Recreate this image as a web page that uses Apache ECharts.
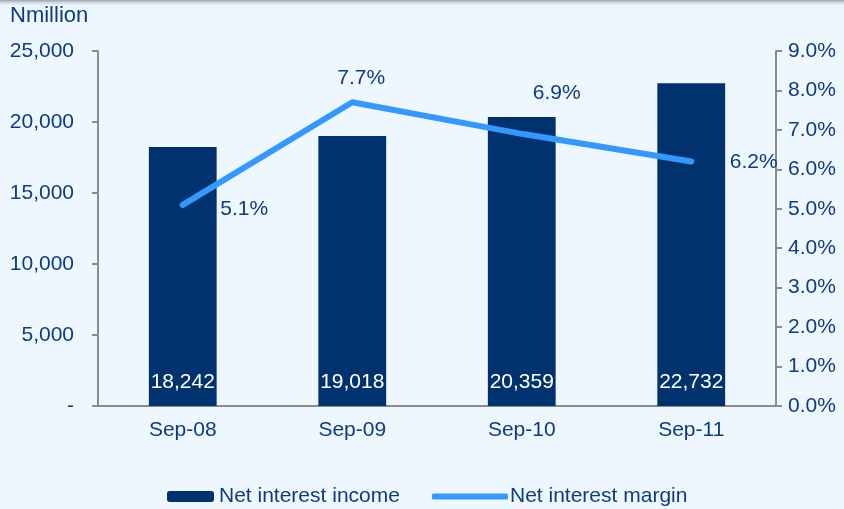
<!DOCTYPE html>
<html>
<head>
<meta charset="utf-8">
<script src="https://cdn.jsdelivr.net/npm/echarts@6/dist/echarts.min.js"></script>
<style>
  html, body { margin: 0; padding: 0; background: #eef6fe; }
  #main { width: 844px; height: 509px; }
</style>
</head>
<body>
<div id="main"></div>
<script>
var categories = ['Sep-08', 'Sep-09', 'Sep-10', 'Sep-11'];
var incomeValues = [18242, 19018, 20359, 22732];
var marginValues = [5.1, 7.7, 6.9, 6.2];
var incomeTicks = [0, 5000, 10000, 15000, 20000, 25000];
var marginTicks = [0, 1, 2, 3, 4, 5, 6, 7, 8, 9];

// where each margin label sits relative to its point
var marginLabelPos = [
  { position: 'right', offset: [32, 4] },
  { position: 'top', offset: [9, -8] },
  { position: 'top', offset: [35, -25] },
  { position: 'right', offset: [33, 1] }
];

var textColor = '#0e3c80';
var font = 'Liberation Sans, Arial, sans-serif';
var fs = 21;

var chart = echarts.init(document.getElementById('main'));

var option = {
  backgroundColor: '#eef6fe',
  textStyle: { fontFamily: font },
  graphic: [{
    type: 'rect',
    left: 0, top: 0,
    shape: { width: 844, height: 7 },
    style: {
      fill: new echarts.graphic.LinearGradient(0, 0, 0, 1, [
        { offset: 0, color: '#9aa3ad' },
        { offset: 1, color: 'rgba(238,246,254,0)' }
      ])
    }
  }, {
    type: 'text',
    left: 10, top: 5,
    style: { text: 'Nmillion', fill: textColor, font: '22px ' + font }
  }],
  grid: { left: 98, right: 68, top: 51, bottom: 103 },
  legend: [{
    data: ['Net interest income'],
    left: 162, top: 481,
    itemWidth: 47, itemHeight: 11,
    itemGap: 5,
    textStyle: { color: textColor, fontSize: fs, fontFamily: font }
  }, {
    data: [{ name: 'Net interest margin', icon: 'roundRect' }],
    left: 427, top: 481,
    itemWidth: 76, itemHeight: 6,
    textStyle: { color: textColor, fontSize: fs, fontFamily: font, padding: [0, 0, 0, -3] }
  }],
  xAxis: {
    type: 'category',
    data: categories,
    axisLine: { lineStyle: { color: '#8c8c8c', width: 2 } },
    axisTick: { length: 6, lineStyle: { color: '#8c8c8c', width: 2 } },
    axisLabel: { color: textColor, fontSize: fs, margin: 14 }
  },
  yAxis: [{
    type: 'value',
    min: incomeTicks[0],
    max: incomeTicks[incomeTicks.length - 1],
    interval: incomeTicks[1] - incomeTicks[0],
    splitLine: { show: false },
    axisLine: { show: true, lineStyle: { color: '#8c8c8c', width: 2 } },
    axisTick: { show: true, length: 6, lineStyle: { color: '#8c8c8c', width: 2 } },
    axisLabel: {
      color: textColor, fontSize: fs, margin: 24,
      formatter: function (v) { return v === 0 ? '-' : v.toLocaleString('en-US'); }
    }
  }, {
    type: 'value',
    position: 'right',
    min: marginTicks[0],
    max: marginTicks[marginTicks.length - 1],
    interval: marginTicks[1] - marginTicks[0],
    splitLine: { show: false },
    axisLine: { show: true, lineStyle: { color: '#8c8c8c', width: 2 } },
    axisTick: { show: true, length: 6, lineStyle: { color: '#8c8c8c', width: 2 } },
    axisLabel: {
      color: textColor, fontSize: fs, margin: 12,
      formatter: function (v) { return v.toFixed(1) + '%'; }
    }
  }],
  series: [{
    name: 'Net interest income',
    type: 'bar',
    data: incomeValues,
    barWidth: '40%',
    itemStyle: { color: '#00336e' },
    label: {
      show: true,
      position: 'insideBottom',
      distance: 13,
      color: '#ffffff',
      fontSize: fs,
      formatter: function (p) { return p.value.toLocaleString('en-US'); }
    }
  }, {
    name: 'Net interest margin',
    type: 'line',
    yAxisIndex: 1,
    symbol: 'circle',
    symbolSize: 1,
    showSymbol: true,
    lineStyle: { color: '#3399ff', width: 6, cap: 'round', join: 'round' },
    itemStyle: { color: '#3399ff' },
    data: marginValues.map(function (v, i) {
      return {
        value: v,
        label: {
          show: true,
          position: marginLabelPos[i].position,
          offset: marginLabelPos[i].offset,
          color: textColor,
          fontSize: fs,
          formatter: v.toFixed(1) + '%'
        }
      };
    })
  }]
};

chart.setOption(option);
</script>
</body>
</html>
